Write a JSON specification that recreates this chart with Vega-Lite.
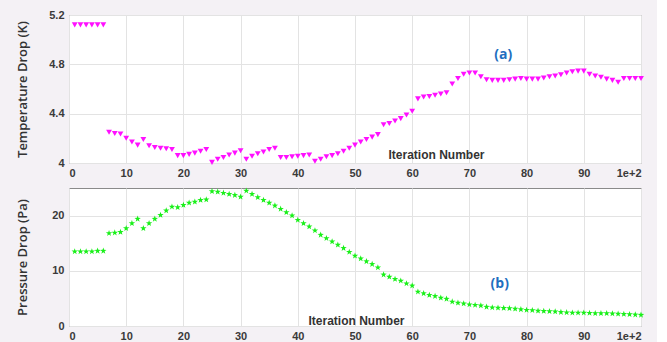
{
  "$schema": "https://vega.github.io/schema/vega-lite/v6.json",
  "padding": {"left": 16, "top": 8, "right": 12, "bottom": 5},
  "background": "#f4f1f5",
  "spacing": 7,
  "config": {
    "view": {"fill": "white", "stroke": "#8a8a8a", "strokeWidth": 1},
    "axis": {
      "labelFont": "Liberation Sans", "labelFontWeight": "bold", "labelFontSize": 11, "labelColor": "#3a3a3a",
      "titleFont": "Open Sans", "titleFontWeight": 600, "titleFontSize": 13, "titleColor": "#333333",
      "gridColor": "#e3e3e3", "gridWidth": 1, "domain": false,
      "ticks": false, "labelPadding": 5, "labelOverlap": false, "format": "~g"
    }
  },
  "datasets": {
    "temp": [
      {"iter":1,"val":5.12},{"iter":2,"val":5.12},{"iter":3,"val":5.12},{"iter":4,"val":5.12},{"iter":5,"val":5.12},{"iter":6,"val":5.12},
      {"iter":7,"val":4.25},{"iter":8,"val":4.24},{"iter":9,"val":4.235},{"iter":10,"val":4.2},{"iter":11,"val":4.17},{"iter":12,"val":4.145},
      {"iter":13,"val":4.19},{"iter":14,"val":4.14},{"iter":15,"val":4.125},{"iter":16,"val":4.12},{"iter":17,"val":4.115},{"iter":18,"val":4.11},
      {"iter":19,"val":4.06},{"iter":20,"val":4.06},{"iter":21,"val":4.07},{"iter":22,"val":4.08},{"iter":23,"val":4.095},{"iter":24,"val":4.11},
      {"iter":25,"val":4.005},{"iter":26,"val":4.03},{"iter":27,"val":4.045},{"iter":28,"val":4.065},{"iter":29,"val":4.08},{"iter":30,"val":4.1},
      {"iter":31,"val":4.03},{"iter":32,"val":4.055},{"iter":33,"val":4.075},{"iter":34,"val":4.09},{"iter":35,"val":4.11},{"iter":36,"val":4.12},
      {"iter":37,"val":4.045},{"iter":38,"val":4.045},{"iter":39,"val":4.05},{"iter":40,"val":4.055},{"iter":41,"val":4.06},{"iter":42,"val":4.065},
      {"iter":43,"val":4.015},{"iter":44,"val":4.03},{"iter":45,"val":4.05},{"iter":46,"val":4.06},{"iter":47,"val":4.075},{"iter":48,"val":4.095},
      {"iter":49,"val":4.12},{"iter":50,"val":4.145},{"iter":51,"val":4.17},{"iter":52,"val":4.19},{"iter":53,"val":4.21},{"iter":54,"val":4.23},
      {"iter":55,"val":4.31},{"iter":56,"val":4.32},{"iter":57,"val":4.34},{"iter":58,"val":4.36},{"iter":59,"val":4.39},{"iter":60,"val":4.42},
      {"iter":61,"val":4.52},{"iter":62,"val":4.535},{"iter":63,"val":4.54},{"iter":64,"val":4.55},{"iter":65,"val":4.56},{"iter":66,"val":4.57},
      {"iter":67,"val":4.64},{"iter":68,"val":4.685},{"iter":69,"val":4.72},{"iter":70,"val":4.73},{"iter":71,"val":4.73},{"iter":72,"val":4.7},
      {"iter":73,"val":4.675},{"iter":74,"val":4.67},{"iter":75,"val":4.67},{"iter":76,"val":4.67},{"iter":77,"val":4.675},{"iter":78,"val":4.68},
      {"iter":79,"val":4.685},{"iter":80,"val":4.68},{"iter":81,"val":4.68},{"iter":82,"val":4.68},{"iter":83,"val":4.69},{"iter":84,"val":4.7},
      {"iter":85,"val":4.705},{"iter":86,"val":4.715},{"iter":87,"val":4.73},{"iter":88,"val":4.74},{"iter":89,"val":4.745},{"iter":90,"val":4.745},
      {"iter":91,"val":4.72},{"iter":92,"val":4.705},{"iter":93,"val":4.695},{"iter":94,"val":4.68},{"iter":95,"val":4.67},{"iter":96,"val":4.655},
      {"iter":97,"val":4.685},{"iter":98,"val":4.685},{"iter":99,"val":4.685},{"iter":100,"val":4.685}
    ],
    "pres": [
      {"iter":1,"val":13.5},{"iter":2,"val":13.5},{"iter":3,"val":13.5},{"iter":4,"val":13.5},{"iter":5,"val":13.6},{"iter":6,"val":13.6},
      {"iter":7,"val":16.8},{"iter":8,"val":16.9},{"iter":9,"val":17.0},{"iter":10,"val":17.7},{"iter":11,"val":18.6},{"iter":12,"val":19.4},
      {"iter":13,"val":17.7},{"iter":14,"val":18.6},{"iter":15,"val":19.4},{"iter":16,"val":20.1},{"iter":17,"val":20.9},{"iter":18,"val":21.6},
      {"iter":19,"val":21.5},{"iter":20,"val":21.9},{"iter":21,"val":22.3},{"iter":22,"val":22.5},{"iter":23,"val":22.8},{"iter":24,"val":22.9},
      {"iter":25,"val":24.4},{"iter":26,"val":24.3},{"iter":27,"val":24.1},{"iter":28,"val":23.9},{"iter":29,"val":23.7},{"iter":30,"val":23.4},
      {"iter":31,"val":24.5},{"iter":32,"val":23.9},{"iter":33,"val":23.3},{"iter":34,"val":22.8},{"iter":35,"val":22.3},{"iter":36,"val":21.8},
      {"iter":37,"val":21.2},{"iter":38,"val":20.6},{"iter":39,"val":20.0},{"iter":40,"val":19.2},{"iter":41,"val":18.6},{"iter":42,"val":18.0},
      {"iter":43,"val":17.3},{"iter":44,"val":16.5},{"iter":45,"val":15.9},{"iter":46,"val":15.3},{"iter":47,"val":14.7},{"iter":48,"val":14.1},
      {"iter":49,"val":13.4},{"iter":50,"val":12.7},{"iter":51,"val":12.2},{"iter":52,"val":11.7},{"iter":53,"val":11.2},{"iter":54,"val":10.6},
      {"iter":55,"val":9.3},{"iter":56,"val":8.9},{"iter":57,"val":8.5},{"iter":58,"val":8.2},{"iter":59,"val":7.7},{"iter":60,"val":7.3},
      {"iter":61,"val":6.2},{"iter":62,"val":5.9},{"iter":63,"val":5.6},{"iter":64,"val":5.4},{"iter":65,"val":5.1},{"iter":66,"val":4.9},
      {"iter":67,"val":4.4},{"iter":68,"val":4.2},{"iter":69,"val":4.05},{"iter":70,"val":3.9},{"iter":71,"val":3.8},{"iter":72,"val":3.7},
      {"iter":73,"val":3.45},{"iter":74,"val":3.35},{"iter":75,"val":3.3},{"iter":76,"val":3.25},{"iter":77,"val":3.2},{"iter":78,"val":3.1},
      {"iter":79,"val":3.0},{"iter":80,"val":2.9},{"iter":81,"val":2.85},{"iter":82,"val":2.75},{"iter":83,"val":2.7},{"iter":84,"val":2.65},
      {"iter":85,"val":2.6},{"iter":86,"val":2.5},{"iter":87,"val":2.45},{"iter":88,"val":2.4},{"iter":89,"val":2.4},{"iter":90,"val":2.4},
      {"iter":91,"val":2.35},{"iter":92,"val":2.3},{"iter":93,"val":2.3},{"iter":94,"val":2.3},{"iter":95,"val":2.25},{"iter":96,"val":2.2},
      {"iter":97,"val":2.15},{"iter":98,"val":2.1},{"iter":99,"val":2.05},{"iter":100,"val":2.0}
    ],
    "labA": [{"iter":75.9,"val":4.875,"label":"(a)"}],
    "labB": [{"iter":75.3,"val":7.6,"label":"(b)"}]
  },
  "vconcat": [
    {
      "width": 572,
      "height": 148,
      "layer": [
        {
          "data": {"name": "temp"},
          "mark": {"type": "point", "shape": "triangle-down", "filled": true, "color": "#ff10ff", "size": 34, "opacity": 1},
          "encoding": {
            "x": {"field": "iter", "type": "quantitative", "scale": {"domain": [0, 100], "nice": false},
              "axis": {"title": "Iteration Number", "values": [0,10,20,30,40,50,60,70,80,90,100], "titleX": 367, "titleY": -9, "titleBaseline": "middle", "titleFont": "Liberation Sans", "titleFontWeight": "bold", "titleFontSize": 12, "labelPadding": 4}},
            "y": {"field": "val", "type": "quantitative", "scale": {"domain": [4, 5.2], "nice": false, "zero": false},
              "axis": {"title": "Temperature Drop (K)", "values": [4,4.2,4.4,4.6,4.8,5,5.2], "titlePadding": 19}}
          }
        },
        {
          "data": {"name": "labA"},
          "mark": {"type": "text", "font": "Open Sans", "fontWeight": "bold", "fontSize": 14, "color": "#1f6fc0"},
          "encoding": {
            "x": {"field": "iter", "type": "quantitative"},
            "y": {"field": "val", "type": "quantitative"},
            "text": {"field": "label"}
          }
        }
      ]
    },
    {
      "width": 572,
      "height": 138,
      "layer": [
        {
          "data": {"name": "pres"},
          "mark": {"type": "point", "shape": "M0,-1L0.235,-0.324L0.951,-0.309L0.38,0.124L0.588,0.809L0,0.4L-0.588,0.809L-0.38,0.124L-0.951,-0.309L-0.235,-0.324Z", "filled": true, "color": "#19f019", "size": 45, "opacity": 1},
          "encoding": {
            "x": {"field": "iter", "type": "quantitative", "scale": {"domain": [0, 100], "nice": false},
              "axis": {"title": "Iteration Number", "values": [0,10,20,30,40,50,60,70,80,90,100], "titleX": 287, "titleY": -6, "titleBaseline": "middle", "titleFont": "Liberation Sans", "titleFontWeight": "bold", "titleFontSize": 12, "labelPadding": 4}},
            "y": {"field": "val", "type": "quantitative", "scale": {"domain": [0, 25], "nice": false},
              "axis": {"title": "Pressure Drop (Pa)", "values": [0,5,10,15,20,25], "titlePadding": 22}}
          }
        },
        {
          "data": {"name": "labB"},
          "mark": {"type": "text", "font": "Open Sans", "fontWeight": "bold", "fontSize": 14, "color": "#1f6fc0"},
          "encoding": {
            "x": {"field": "iter", "type": "quantitative"},
            "y": {"field": "val", "type": "quantitative"},
            "text": {"field": "label"}
          }
        }
      ]
    }
  ]
}
